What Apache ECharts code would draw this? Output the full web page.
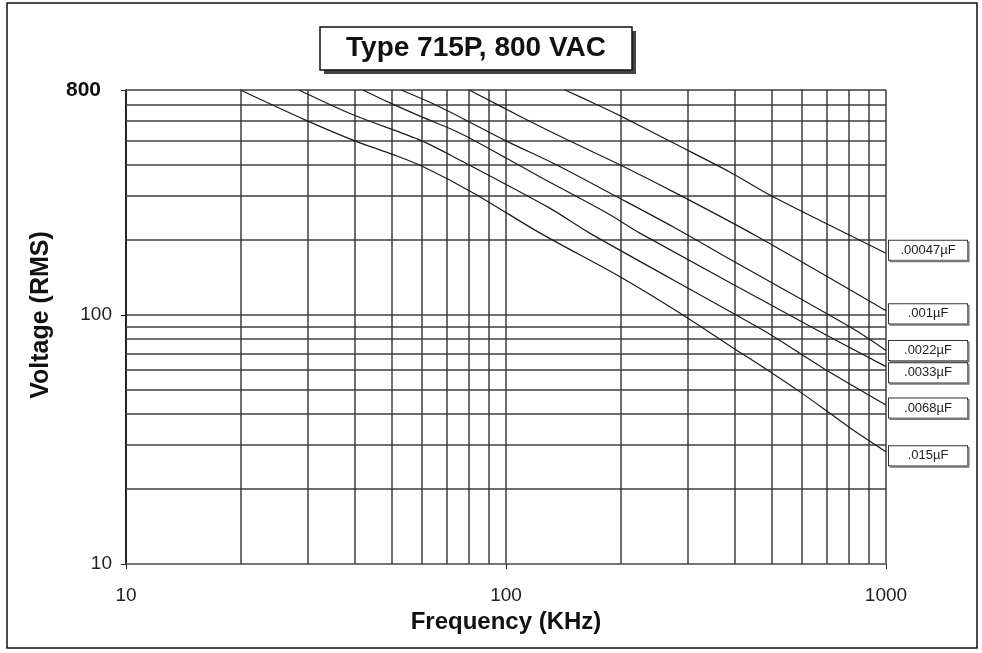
<!DOCTYPE html>
<html>
<head>
<meta charset="utf-8">
<style>
html, body { margin: 0; padding: 0; background: #fff; }
#main { width: 982px; height: 653px; }
</style>
<script src="https://cdn.jsdelivr.net/npm/echarts@6/dist/echarts.min.js"></script>
</head>
<body>
<div id="main"></div>
<script>
// curve data: [frequency (KHz), voltage (RMS)]
var curveNames = ['.00047µF', '.001µF', '.0022µF', '.0033µF', '.0068µF', '.015µF'];
var c00047 = [[143, 800], [173, 700], [200, 630], [275, 491], [388, 375], [495, 303], [683, 236], [1000, 177]];
var c001 = [[80, 800], [111, 618], [145, 505], [200, 400], [290, 300], [457, 207], [1000, 104]];
var c0022 = [[53, 800], [67, 684], [100, 500], [136, 400], [192, 303], [275, 226], [395, 165], [819, 88], [1000, 72]];
var c0033 = [[42, 800], [49.5, 710], [60, 624], [75.5, 538], [100, 427], [123, 358], [184, 257], [225, 213], [658, 87], [1000, 62]];
var c0068 = [[28.5, 800], [39.6, 636], [60, 500], [75.5, 419], [130, 269], [166, 213], [474, 87], [594, 70], [685, 61], [1000, 43.5]];
var c015 = [[20, 800], [29.6, 607], [40, 500], [50.5, 440], [60, 396], [82, 309], [123, 213], [200, 142],
  [292, 100], [400, 73], [474, 61.8], [594, 49.1], [699, 41.1], [819, 34.5], [1000, 28.2]];
var curves = [c00047, c001, c0022, c0033, c0068, c015];
// small vertical shift of each end box (px), boxes are stacked by hand in the original
var labelShift = [-3, 3, 0, 6, 3, 4];

// grid lines between the labelled decades
var xMinor = [20, 30, 40, 50, 60, 70, 80, 90, 200, 300, 400, 500, 600, 700, 800, 900];
var yMinor = [20, 30, 40, 50, 60, 70, 80, 90, 200, 300, 400, 500, 600, 700];

var gridColor = '#3c3c3c';
var fontName = '"Liberation Sans", Arial, sans-serif';

var myChart = echarts.init(document.getElementById('main'));

var series = curves.map(function (data, i) {
  var s = {
    name: curveNames[i],
    type: 'line',
    data: data,
    symbol: 'none',
    smooth: 0.3,
    silent: true,
    z: 5,
    lineStyle: { color: '#1a1a1a', width: 1.2 },
    endLabel: {
      show: true,
      distance: 3,
      offset: [0, labelShift[i]],
      formatter: '{a|' + curveNames[i] + '}',
      rich: { a: { width: 74, align: 'center', fontSize: 13, fontFamily: fontName, color: '#222' } },
      backgroundColor: '#fff',
      borderColor: '#333',
      borderWidth: 1,
      padding: [3, 2, 3, 2],
      shadowColor: '#777',
      shadowOffsetX: 1.5,
      shadowOffsetY: 1.5
    }
  };
  if (i === 0) {
    s.markLine = {
      silent: true,
      symbol: 'none',
      animation: false,
      label: { show: false },
      lineStyle: { color: gridColor, width: 1.5, type: 'solid' },
      data: xMinor.map(function (v) { return { xAxis: v }; })
        .concat(yMinor.map(function (v) { return { yAxis: v }; }))
    };
  }
  return s;
});

myChart.setOption({
  animation: false,
  backgroundColor: '#fff',
  grid: { left: 126, right: 96, top: 90, bottom: 89, containLabel: false, outerBoundsMode: 'none' },
  xAxis: {
    type: 'log',
    logBase: 10,
    min: 10,
    max: 1000,
    name: 'Frequency (KHz)',
    nameLocation: 'middle',
    nameGap: 44,
    nameTextStyle: { fontFamily: fontName, fontWeight: 'bold', fontSize: 24, color: '#111' },
    axisLine: { show: true, lineStyle: { color: '#777', width: 1.5 } },
    axisTick: { show: true, length: 5, lineStyle: { color: '#222' } },
    axisLabel: {
      margin: 22, fontFamily: fontName, fontSize: 19, color: '#222',
      formatter: function (v) { return String(Math.round(v)); }
    },
    splitLine: { show: true, lineStyle: { color: gridColor, width: 1.5 } }
  },
  yAxis: {
    type: 'log',
    logBase: 10,
    min: 10,
    max: 800,
    name: 'Voltage (RMS)',
    nameLocation: 'middle',
    nameGap: 72,
    nameTextStyle: { fontFamily: fontName, fontWeight: 'bold', fontSize: 25, color: '#111', padding: [0, 0, 0, 24] },
    axisLine: { show: true, lineStyle: { color: '#111', width: 1.5 } },
    axisTick: { show: true, length: 5, lineStyle: { color: '#222' } },
    axisLabel: {
      margin: 14,
      fontFamily: fontName,
      fontSize: 19,
      color: '#222',
      formatter: function (v) {
        return v >= 799 ? '{b|800}' : String(Math.round(v));
      },
      rich: { b: { fontFamily: fontName, fontSize: 21, fontWeight: 'bold', color: '#111', padding: [0, 11, 0, 0] } }
    },
    splitLine: { show: true, lineStyle: { color: gridColor, width: 1.5 } }
  },
  series: series,
  graphic: [
    { type: 'rect', silent: true, shape: { x: 7, y: 3, width: 970, height: 645 },
      style: { fill: 'none', stroke: '#111', lineWidth: 1.5 } },
    { type: 'rect', silent: true, shape: { x: 324, y: 31, width: 312, height: 43 },
      style: { fill: '#444' } },
    { type: 'rect', silent: true, shape: { x: 320, y: 27, width: 312, height: 43 },
      style: { fill: '#fff', stroke: '#111', lineWidth: 1.5 } },
    { type: 'text', silent: true, x: 476, y: 48,
      style: { text: 'Type 715P, 800 VAC', fontFamily: fontName, fontWeight: 'bold', fontSize: 28,
        fill: '#111', align: 'center', verticalAlign: 'middle' } }
  ]
});
</script>
</body>
</html>
